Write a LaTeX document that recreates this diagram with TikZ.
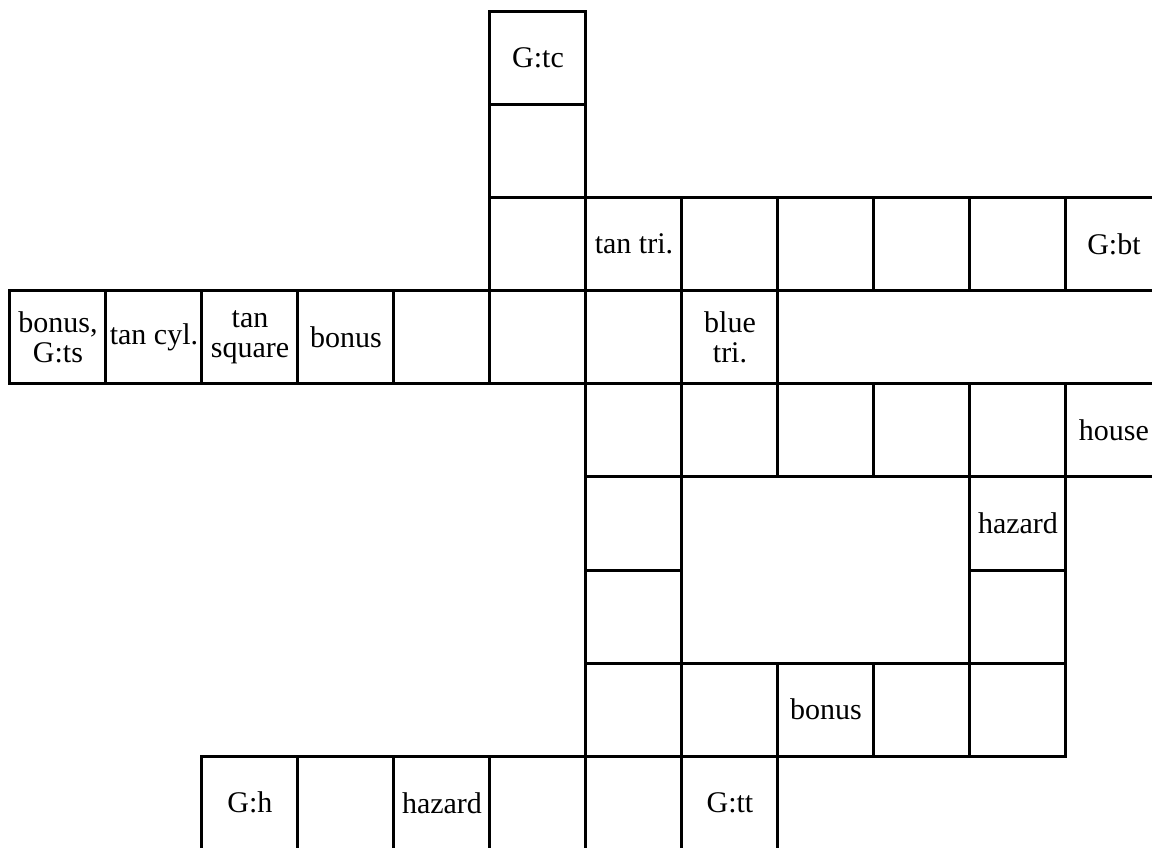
\documentclass[tikz,border=0pt]{standalone}
\usepackage{fontspec}
\setmainfont{Liberation Serif}
\usetikzlibrary{positioning}

\begin{document}
\begin{tikzpicture}[
  x=48pt, y=46.55pt,
  node distance=0pt and 0pt,
  cell/.style={rectangle, draw, line width=1.5pt, outer sep=0pt, inner sep=1pt,
               minimum width=48pt, minimum height=46.55pt, align=center,
               font=\fontsize{15}{15}\selectfont}
]
\useasboundingbox (-0.104,0.123) rectangle (11.896,-8.985);
\clip (-0.104,0.123) rectangle (11.896,-8.985);
% top column
\node[cell] (gtc) at (5.5,-0.5) {G:tc};
\node[cell, below=of gtc] (top1) {};
% upper row
\node[cell, below=of top1] (up5) {};
\node[cell, right=of up5] (tantri) {tan tri.};
\node[cell, right=of tantri] (up7) {};
\node[cell, right=of up7] (up8) {};
\node[cell, right=of up8] (up9) {};
\node[cell, right=of up9] (up10) {};
\node[cell, right=of up10] (gbt) {G:bt};
% long row
\node[cell] (gts) at (0.5,-3.5) {bonus,\\G:ts};
\node[cell, right=of gts] (tancyl) {tan cyl.};
\node[cell, right=of tancyl] (tansq) {tan\\square};
\node[cell, right=of tansq] (bonusa) {bonus};
\node[cell, right=of bonusa] (mid4) {};
\node[cell, right=of mid4] (mid5) {};
\node[cell, right=of mid5] (mid6) {};
\node[cell, right=of mid6] (bluetri) {blue\\tri.};
% loop
\node[cell, below=of mid6] (lo6) {};
\node[cell, right=of lo6] (lo7) {};
\node[cell, right=of lo7] (lo8) {};
\node[cell, right=of lo8] (lo9) {};
\node[cell, right=of lo9] (lo10) {};
\node[cell, right=of lo10] (house) {house};
\node[cell, below=of lo6] (lft5) {};
\node[cell, below=of lft5] (lft6) {};
\node[cell, below=of lo10] (hazarda) {hazard};
\node[cell, below=of hazarda] (rgt6) {};
\node[cell, below=of lft6] (bot6) {};
\node[cell, right=of bot6] (bot7) {};
\node[cell, right=of bot7] (bonusb) {bonus};
\node[cell, right=of bonusb] (bot9) {};
\node[cell, right=of bot9] (bot10) {};
% bottom row
\node[cell] (gh) at (2.5,-8.5) {G:h};
\node[cell, right=of gh] (end3) {};
\node[cell, right=of end3] (hazardb) {hazard};
\node[cell, right=of hazardb] (end5) {};
\node[cell, right=of end5] (end6) {};
\node[cell, right=of end6] (gtt) {G:tt};
\end{tikzpicture}
\end{document}
